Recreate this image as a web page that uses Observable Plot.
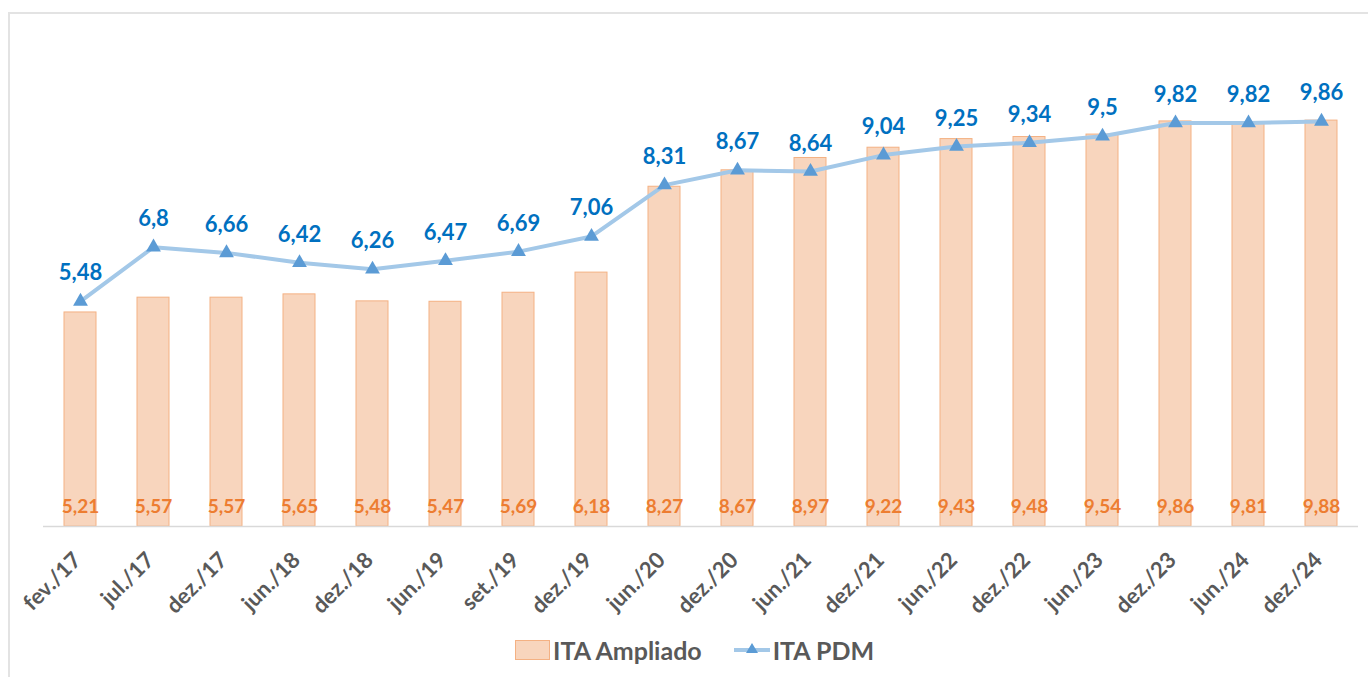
<!DOCTYPE html>
<html>
<head>
<meta charset="utf-8">
<script src="https://cdn.jsdelivr.net/npm/d3@7"></script>
<script src="https://cdn.jsdelivr.net/npm/@observablehq/plot@0.6"></script>
<style>
  html, body { margin: 0; padding: 0; background: #fff; width: 1368px; height: 677px; overflow: hidden; font-family: Lato, "Open Sans", sans-serif; }
  #frame { position: absolute; left: 8px; top: 12px; width: 1400px; height: 720px; border: 2px solid #e3e3e3; box-sizing: border-box; }
  #chart { position: absolute; left: 0; top: 0; }
  #legend { position: absolute; left: 515px; top: 635px; display: flex; align-items: center; font-weight: bold; font-size: 25px; color: #595959; }
  #legend .sw { width: 35px; height: 20px; background: #f8d5bd; border: 1px solid #f4b183; box-sizing: border-box; margin-right: 3px; }
</style>
</head>
<body>
<div id="frame"></div>
<div id="chart"></div>
<div id="legend">
  <div class="sw"></div><span>ITA Ampliado</span>
  <svg width="36" height="20" style="margin-left:32px;margin-right:3px"><line x1="0" y1="10" x2="36" y2="10" stroke="#a3c8e8" stroke-width="4"/><path d="M18,3 L24,13 L12,13 Z" fill="#5b9bd5"/></svg><span>ITA PDM</span>
</div>
<script>
const categories = ["fev./17","jul./17","dez./17","jun./18","dez./18","jun./19","set./19","dez./19","jun./20","dez./20","jun./21","dez./21","jun./22","dez./22","jun./23","dez./23","jun./24","dez./24"];
const itaAmpliado = [5.21,5.57,5.57,5.65,5.48,5.47,5.69,6.18,8.27,8.67,8.97,9.22,9.43,9.48,9.54,9.86,9.81,9.88];
const itaPDM = [5.48,6.8,6.66,6.42,6.26,6.47,6.69,7.06,8.31,8.67,8.64,9.04,9.25,9.34,9.5,9.82,9.82,9.86];

const data = categories.map((c, i) => ({cat: c, amp: itaAmpliado[i], pdm: itaPDM[i]}));
const fmt = v => String(v).replace(".", ",");

const chart = Plot.plot({
  width: 1368,
  height: 600,
  marginLeft: 43,
  marginRight: 10,
  marginTop: 33,
  marginBottom: 74,
  style: {fontFamily: "Lato, 'Open Sans', sans-serif", background: "transparent", overflow: "visible"},
  x: {domain: categories, paddingInner: 0.56, paddingOuter: 0.28, label: null, axis: null},
  y: {domain: [0, 12], axis: null},
  marks: [
    Plot.barY(data, {x: "cat", y: "amp", fill: "#f8d5bd", stroke: "#f4b183", strokeWidth: 1}),
    Plot.ruleY([0], {stroke: "#d9d9d9", strokeWidth: 1.5}),
    Plot.text(data, {x: "cat", y: 0, text: d => fmt(d.amp), dy: -20, fill: "#ed7d31", fontWeight: "bold", fontSize: 19}),
    Plot.lineY(data, {x: "cat", y: "pdm", stroke: "#a3c8e8", strokeWidth: 4}),
    Plot.dot(data, {x: "cat", y: "pdm", symbol: "triangle", r: 5.5, fill: "#5b9bd5", stroke: "none"}),
    Plot.text(data, {x: "cat", y: "pdm", text: d => fmt(d.pdm), dy: -28, fill: "#0070c0", fontWeight: "bold", fontSize: 22}),
    Plot.text(categories, {x: d => d, y: 0, text: d => d, rotate: -45, textAnchor: "end", lineAnchor: "middle", dx: -3, dy: 30, fontSize: 22, fontWeight: "bold", fill: "#595959"})
  ]
});
document.getElementById("chart").appendChild(chart);
</script>
</body>
</html>
